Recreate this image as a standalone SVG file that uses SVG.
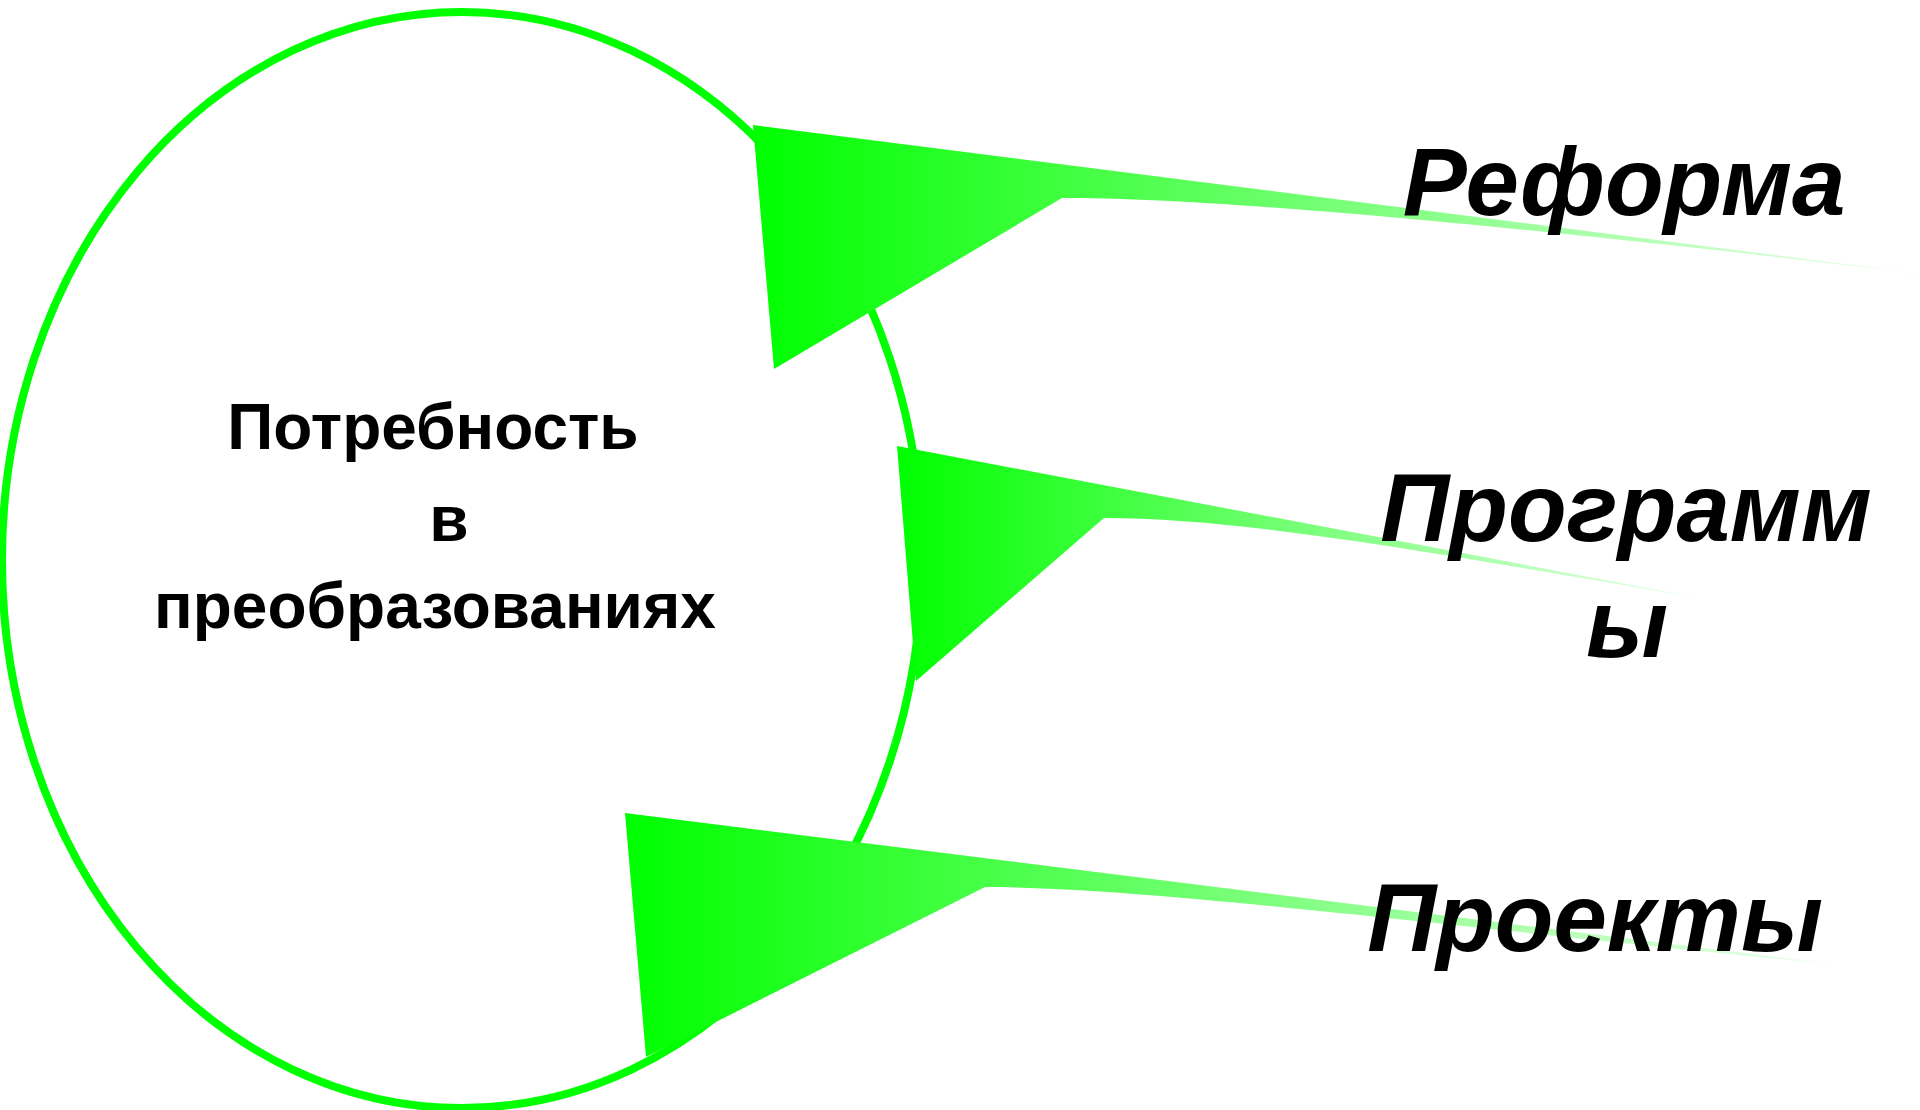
<svg xmlns="http://www.w3.org/2000/svg" width="1920" height="1110" viewBox="0 0 1920 1110">
<style>
.ring{fill:#ffffff;stroke:#00ff00;stroke-width:8}
.main{font-family:"Liberation Sans",Arial,sans-serif;font-weight:bold;font-size:64px;fill:#000000;text-anchor:middle}
.lbl{font-family:"Liberation Sans",Arial,sans-serif;font-weight:bold;font-style:italic;font-size:96px;fill:#000000;text-anchor:middle}
</style>
<defs>
<linearGradient id="g1" gradientUnits="userSpaceOnUse" x1="753" y1="0" x2="2000" y2="0">
<stop offset="0" stop-color="#00ff00"/><stop offset="1" stop-color="#ffffff"/>
</linearGradient>
<linearGradient id="g2" gradientUnits="userSpaceOnUse" x1="897" y1="0" x2="1760" y2="0">
<stop offset="0" stop-color="#00ff00"/><stop offset="1" stop-color="#ffffff"/>
</linearGradient>
<linearGradient id="g3" gradientUnits="userSpaceOnUse" x1="625" y1="0" x2="1930" y2="0">
<stop offset="0" stop-color="#00ff00"/><stop offset="1" stop-color="#ffffff"/>
</linearGradient>
</defs>
<rect width="1920" height="1110" fill="#ffffff"/>
<g id="need">
<ellipse class="ring" cx="462" cy="560" rx="460" ry="548"/>
<text class="main" x="433" y="449">Потребность</text>
<text class="main" x="449" y="541">в</text>
<text class="main" x="435" y="628">преобразованиях</text>
</g>
<g id="connectors">
<path d="M753,125 L1940,276 C1450,218 1200,198 1062,198 L774,369 Z" fill="url(#g1)"/>
<path d="M897,446 L1700,598 C1450,556 1250,518 1104,518 L916,681 Z" fill="url(#g2)"/>
<path d="M625,813 L1840,965 C1450,927 1150,887 985,887 L646,1057 Z" fill="url(#g3)"/>
</g>
<g id="reforma">
<text class="lbl" x="1624" y="215">Реформа</text>
</g>
<g id="programmy">
<text class="lbl" x="1626" y="541">Программ</text>
<text class="lbl" x="1627" y="657">ы</text>
</g>
<g id="proekty">
<text class="lbl" x="1595" y="951">Проекты</text>
</g>
</svg>
